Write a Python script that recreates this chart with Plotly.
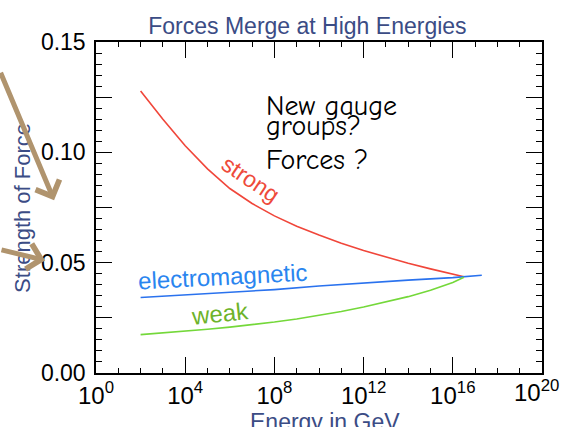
import plotly.graph_objects as go

# Energy (GeV) sample points, log10 exponents
log_energy = [2, 3, 4, 5, 6, 7, 8, 9, 10, 11, 12, 13, 14, 15, 16, 16.5]
strong = [0.1278, 0.1150, 0.1030, 0.0925, 0.0836, 0.0768, 0.0712, 0.0665, 0.0625,
          0.0588, 0.0555, 0.0525, 0.0497, 0.0472, 0.0449, 0.0436]
weak = [0.0174, 0.0181, 0.0189, 0.0198, 0.0208, 0.0219, 0.0231, 0.0245, 0.0261,
        0.0279, 0.0299, 0.0321, 0.0346, 0.0375, 0.0410, 0.0434]
log_energy_em = [2, 4, 6, 8, 10, 12, 14, 16, 16.5, 17.3]
electromagnetic = [0.0342, 0.0354, 0.0366, 0.0378, 0.0394, 0.0408, 0.0421, 0.0432, 0.0436, 0.0443]

x_tick_exps = [0, 4, 8, 12, 16, 20]
y_tick_vals = [0, 0.025, 0.05, 0.075, 0.10, 0.125, 0.15]
y_tick_text = ["0.00", "", "0.05", "", "0.10", "", "0.15"]

energy = [10.0 ** e for e in log_energy]
energy_em = [10.0 ** e for e in log_energy_em]

fig = go.Figure()
fig.add_trace(go.Scatter(x=energy, y=strong, mode="lines",
                         line=dict(color="#f0463a", width=1.6), showlegend=False))
fig.add_trace(go.Scatter(x=energy_em, y=electromagnetic, mode="lines",
                         line=dict(color="#2a72ee", width=1.6), showlegend=False))
fig.add_trace(go.Scatter(x=energy, y=weak, mode="lines",
                         line=dict(color="#74d83a", width=1.6), showlegend=False))

TXT = "#3b4c85"
ARROW = "#b0946e"
FONT = "Liberation Sans, Arial, sans-serif"

annotations = [
    dict(text="Strength of Force", xref="paper", yref="paper", x=-0.165, y=0.5,
         textangle=-90, showarrow=False, font=dict(size=22, color=TXT, family=FONT),
         xanchor="center", yanchor="middle"),
    dict(text="Energy in GeV", xref="paper", yref="paper", x=0.513, y=-0.147,
         showarrow=False, font=dict(size=23, color=TXT, family=FONT),
         xanchor="center", yanchor="middle"),
    dict(text="", xref="paper", yref="paper", x=-0.094, y=0.522, ax=-75, ay=-129,
         showarrow=True, arrowhead=4, arrowwidth=5, arrowsize=1.0, arrowcolor=ARROW),
    dict(text="", xref="paper", yref="paper", x=-0.114, y=0.340, ax=-60, ay=-11,
         showarrow=True, arrowhead=4, arrowwidth=5, arrowsize=1.0, arrowcolor=ARROW),
    dict(text="strong", x=6.93, y=0.0881, xref="x", yref="y", textangle=34,
         showarrow=False, font=dict(size=23, color="#ee4a3a", family=FONT)),
    dict(text="electromagnetic", x=5.68, y=0.0438, xref="x", yref="y", textangle=-3,
         showarrow=False, font=dict(size=24, color="#2a85ef", family=FONT)),
    dict(text="weak", x=5.55, y=0.0270, xref="x", yref="y", textangle=-6,
         showarrow=False, font=dict(size=24, color="#6db32a", family=FONT)),
    # last x tick label, placed so it stays inside the page as in the reference
    dict(text="10<sup>%d</sup>" % x_tick_exps[-1], xref="paper", yref="paper",
         x=(536 - 96) / 446, y=(372.7 - 391) / 331, xanchor="center", yanchor="middle",
         showarrow=False, font=dict(size=24, color="black", family=FONT)),
]

CFONT = "Comic Sans MS, Comic Neue, DejaVu Sans, sans-serif"
for txt, py in [("New gauge", 106), ("groups?", 126), ("Forces ?", 160)]:
    annotations.append(dict(text=txt, xref="paper", yref="paper", x=(264 - 96) / 446,
                            y=(372.7 - py) / 331, xanchor="left", yanchor="middle",
                            showarrow=False, font=dict(size=28, color="black", family=CFONT)))

fig.update_layout(
    width=561, height=427,
    margin=dict(l=96, r=19, t=42, b=54, autoexpand=False),
    paper_bgcolor="white", plot_bgcolor="white",
    title=dict(text="Forces Merge at High Energies", x=0.548, y=1 - 26 / 427,
               xref="container", yref="container", xanchor="center", yanchor="middle",
               font=dict(size=23, color=TXT, family=FONT)),
    annotations=annotations,
)

fig.update_xaxes(
    type="log", range=[0, 20.00001], automargin=False,
    tickvals=[10.0 ** e for e in x_tick_exps],
    ticktext=["10<sup>%d</sup>" % e for e in x_tick_exps[:-1]] + [""],
    ticklabeloverflow="allow",
    ticks="inside", ticklen=16, tickwidth=1.3, tickcolor="black",
    minor=dict(tickvals=[10.0 ** e for e in range(0, 21)], ticks="inside", ticklen=5.5,
               tickwidth=1.3, tickcolor="black"),
    showline=True, linecolor="black", linewidth=1.5, mirror="allticks",
    showgrid=False, zeroline=False,
    tickfont=dict(size=24, color="black", family=FONT),
)
fig.update_yaxes(
    range=[0, 0.15], automargin=False,
    tickvals=y_tick_vals, ticktext=y_tick_text,
    ticks="inside", ticklen=16, tickwidth=1.3, tickcolor="black",
    minor=dict(dtick=0.005, ticks="inside", ticklen=6, tickwidth=1.3, tickcolor="black"),
    showline=True, linecolor="black", linewidth=1.5, mirror="allticks",
    showgrid=False, zeroline=False, ticklabelstandoff=4,
    tickfont=dict(size=23, color="black", family=FONT),
)

fig.write_html("out.html")
